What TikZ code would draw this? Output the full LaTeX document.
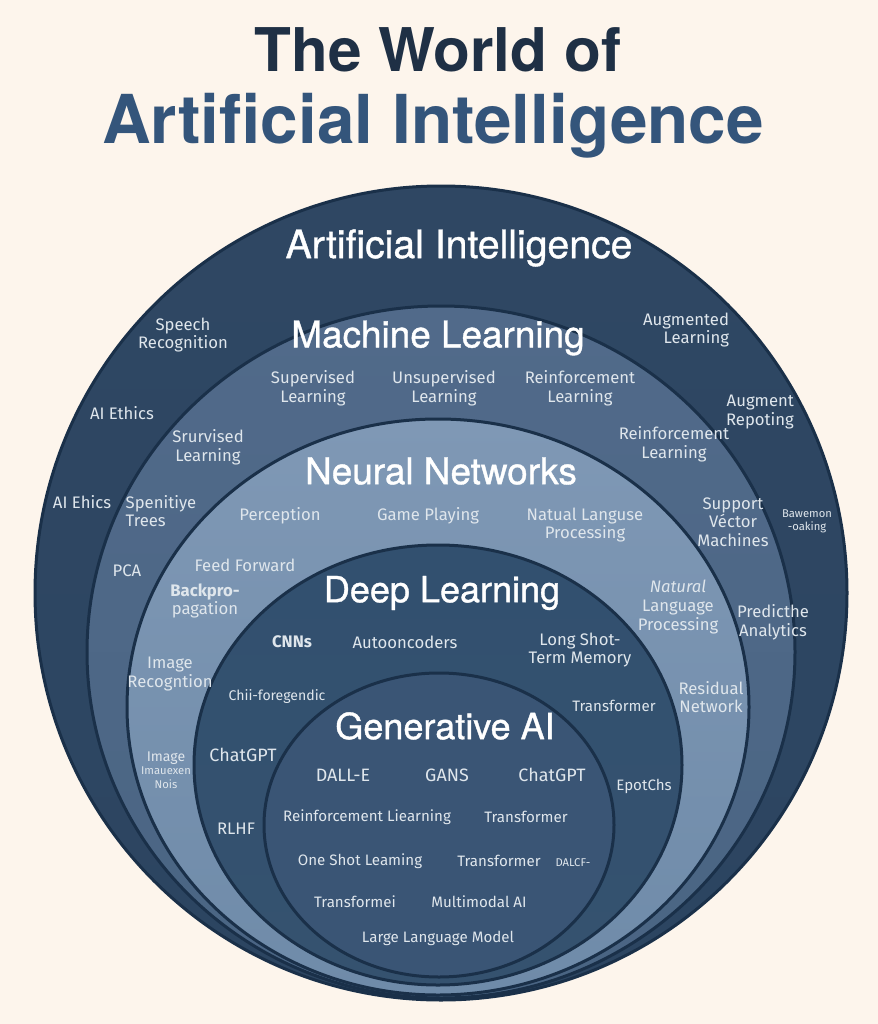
\documentclass[tikz,border=0pt]{standalone}
\usepackage{fontspec}
\setmainfont{Fira Sans}
\newfontfamily\headfont[FakeBold=1]{TeX Gyre Heros}
\newfontfamily\titlefont{TeX Gyre Heros}
\definecolor{paper}{HTML}{FDF5EC}
\definecolor{ringline}{HTML}{1A3049}
\definecolor{titledark}{HTML}{1F3045}
\definecolor{titleblue}{HTML}{34557B}
\definecolor{labelsoft}{HTML}{DFE6EC}
\definecolor{aitop}{HTML}{2F4763}
\definecolor{aibot}{HTML}{2C4561}
\definecolor{mltop}{HTML}{516A8A}
\definecolor{mlbot}{HTML}{4A6583}
\definecolor{nntop}{HTML}{7F98B5}
\definecolor{nnbot}{HTML}{6F8BA9}
\definecolor{dltop}{HTML}{32506F}
\definecolor{dlbot}{HTML}{35526F}
\definecolor{genai}{HTML}{3A5575}
\tikzset{
	ring/.style={draw=ringline, line width=0.6mm},
	lbl/.style={text=labelsoft, align=center, inner sep=0pt, font=\fontsize{9.5}{10.6}\selectfont},
	small lbl/.style={lbl, font=\fontsize{8.6}{10}\selectfont},
	wide lbl/.style={lbl, font=\fontsize{10.2}{11}\selectfont},
	tiny lbl/.style={lbl, font=\fontsize{6.4}{7.6}\selectfont},
	heading/.style={text=white, inner sep=0pt, font=\headfont\fontsize{21}{24}\selectfont},
	headline/.style={inner sep=0pt, font=\titlefont\bfseries}
}

\begin{document}
\begin{tikzpicture}[x=0.02cm, y=-0.02cm]
		%%%%% START %%%%%
		
		\fill[paper] (0, 0) rectangle (878, 1024);
		\useasboundingbox (0, 0) rectangle (878, 1024);
		
		\node[headline, text=titledark] (maintitle) at (438, 50) {\fontsize{34.3}{38}\selectfont The World of};
		\node[headline, text=titleblue] (subtitle) at (433, 126) {\fontsize{38.4}{42}\selectfont Artificial Intelligence};
		
		% the five rings, outer first
		\draw[ring, top color=aitop, bottom color=aibot] (441, 593) ellipse (406 and 407);
		\draw[ring, top color=mltop, bottom color=mlbot] (441, 652) ellipse (354 and 346);
		\draw[ring, top color=nntop, bottom color=nnbot] (438, 707) ellipse (311 and 288);
		\draw[ring, top color=dltop, bottom color=dlbot] (438, 765) ellipse (244 and 220);
		\draw[ring, fill=genai] (439, 825) ellipse (175 and 152);
		
		\node[heading, font=\headfont\fontsize{22.3}{24}\selectfont] (ai) at (459, 248) {Artificial Intelligence};
		\node[heading] (ml) at (438, 338) {Machine Learning};
		\node[heading] (nn) at (441, 471) {Neural Networks};
		\node[heading, font=\headfont\fontsize{20.5}{24}\selectfont] (dl) at (442, 593) {Deep Learning};
		\node[heading, font=\headfont\fontsize{20.5}{24}\selectfont] (genai) at (445, 726) {Generative AI};
		
		% outer ring
		\node[lbl] (speech) at (183, 335) {Speech\\Recognition};
		\node[lbl] (ethicsa) at (122, 413) {AI Ethics};
		\node[lbl] (ethicsb) at (82, 502) {AI Ehics};
		\node[lbl, align=right] (augmented) at (686, 330) {Augmented\\Learning};
		\node[lbl, align=right] (augment) at (760, 412) {Augment\\Repoting};
		\node[tiny lbl] (bawemon) at (807, 521) {Bawemon\\-oaking};
		\node[lbl] (predict) at (773, 622) {Predicthe\\Analytics};
		
		% machine learning
		\node[lbl] (supervised) at (313, 388) {Supervised\\Learning};
		\node[lbl] (unsupervised) at (444, 388) {Unsupervised\\Learning};
		\node[lbl] (reinforcea) at (580, 388) {Reinforcement\\Learning};
		\node[lbl] (srurvised) at (208, 447) {Srurvised\\Learning};
		\node[lbl] (reinforceb) at (674, 444) {Reinforcement\\Learning};
		\node[lbl, align=left] (spenitiye) at (161, 511) {Spenitiye\\Trees};
		\node[lbl] (pca) at (127, 571) {PCA};
		\node[lbl] (support) at (733, 522) {Support\\Véctor\\Machines};
		
		% neural networks
		\node[lbl] (perception) at (280, 516) {Perception};
		\node[lbl] (game) at (428, 516) {Game Playing};
		\node[lbl] (natual) at (585, 525) {Natual Languse\\Processing};
		\node[lbl] (feed) at (245, 565) {Feed Forward};
		\node[lbl] (backprop) at (205, 601) {\textbf{Backpro-}\\pagation};
		\node[lbl] (natural) at (678, 607) {\textit{Natural}\\Language\\Processing};
		\node[lbl] (recog) at (170, 674) {Image\\Recogntion};
		\node[lbl] (residual) at (711, 697) {Residual\\Network};
		\node[tiny lbl] (imagea) at (166, 770) {{\fontsize{8}{9}\selectfont Image}\\Imauexen\\Nois};
		
		% deep learning
		\node[lbl] (cnns) at (292, 642) {\textbf{CNNs}};
		\node[lbl] (autoenc) at (405, 642) {Autooncoders};
		\node[lbl] (longshot) at (580, 650) {Long Shot-\\Term Memory};
		\node[small lbl, font=\fontsize{8}{10}\selectfont] (chii) at (277, 697) {Chii-foregendic};
		\node[small lbl] (transa) at (614, 706) {Transformer};
		\node[wide lbl] (chata) at (243, 755) {ChatGPT};
		\node[lbl] (rlhf) at (236, 829) {RLHF};
		\node[small lbl] (epot) at (644, 786) {EpotChs};
		
		% generative ai
		\node[wide lbl] (dalle) at (343, 775) {DALL-E};
		\node[wide lbl] (gans) at (447, 775) {GANS};
		\node[wide lbl] (chatb) at (552, 775) {ChatGPT};
		\node[small lbl] (liearn) at (367, 817) {Reinforcement Liearning};
		\node[small lbl] (transb) at (526, 817) {Transformer};
		\node[small lbl] (oneshot) at (360, 861) {One Shot Leaming};
		\node[small lbl] (transc) at (499, 861) {Transformer};
		\node[tiny lbl] (dalcf) at (573, 863) {DALCF-};
		\node[small lbl] (transd) at (355, 902) {Transformei};
		\node[small lbl] (multi) at (479, 902) {Multimodal AI};
		\node[small lbl] (large) at (438, 938) {Large Language Model};
		
		%%%%% END %%%%%
	\end{tikzpicture}
\end{document}
